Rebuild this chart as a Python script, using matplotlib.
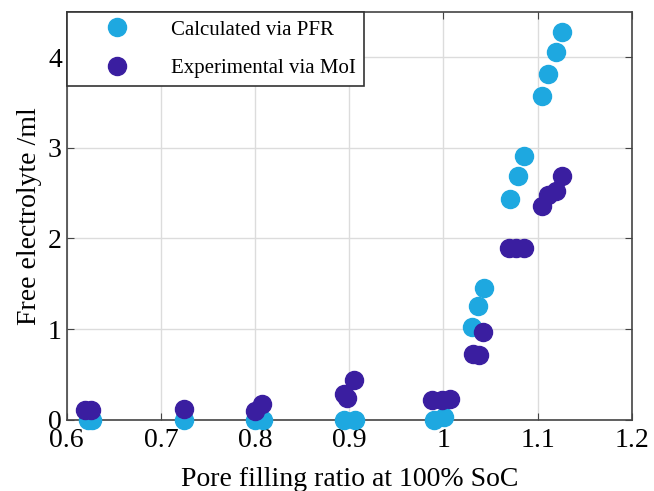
import matplotlib
matplotlib.use('Agg')
import matplotlib.pyplot as plt

plt.rcParams['font.family'] = 'Liberation Serif'

# Calculated via PFR
pfr_x = [0.623, 0.627, 0.725, 0.800, 0.808, 0.894, 0.906, 0.990, 1.001,
         1.030, 1.037, 1.043, 1.071, 1.079, 1.086, 1.105, 1.111, 1.120, 1.126]
pfr_y = [0.0, 0.0, 0.0, 0.0, 0.0, 0.0, 0.0, 0.0, 0.03,
         1.02, 1.26, 1.45, 2.43, 2.69, 2.91, 3.57, 3.81, 4.06, 4.28]

# Experimental via MoI
moi_x = [0.619, 0.626, 0.725, 0.800, 0.807, 0.894, 0.898, 0.905, 0.988, 0.998, 1.007,
         1.031, 1.038, 1.042, 1.070, 1.077, 1.086, 1.105, 1.111, 1.120, 1.126]
moi_y = [0.11, 0.11, 0.12, 0.10, 0.17, 0.28, 0.24, 0.44, 0.22, 0.22, 0.23,
         0.73, 0.71, 0.97, 1.90, 1.90, 1.90, 2.36, 2.48, 2.52, 2.69]

fig = plt.figure(figsize=(6.54, 4.91), dpi=100)
ax = fig.add_axes([0.102, 0.145, 0.864, 0.831])

ax.plot(pfr_x, pfr_y, 'o', color='#1EA8E0', markersize=13, label='Calculated via PFR',
        zorder=3, clip_on=False)
ax.plot(moi_x, moi_y, 'o', color='#3A1EA0', markersize=13, label='Experimental via MoI',
        zorder=4, clip_on=False)

ax.set_xlim(0.6, 1.2)
ax.set_ylim(0, 4.5)
ax.set_xticks([0.6, 0.7, 0.8, 0.9, 1.0, 1.1, 1.2])
ax.set_xticklabels(['0.6', '0.7', '0.8', '0.9', '1', '1.1', '1.2'])
ax.set_yticks([0, 1, 2, 3, 4])
ax.grid(True, color='#dcdcdc', linewidth=1)
ax.set_axisbelow(True)
ax.tick_params(direction='in', top=True, right=True, labelsize=20, length=5, color='#444444')
ax.tick_params(axis='x', pad=6)
for s in ax.spines.values():
    s.set_color('#444444')
    s.set_linewidth(1.2)

ax.set_xlabel('Pore filling ratio at 100% SoC', fontsize=20, labelpad=10)
ax.set_ylabel('Free electrolyte /ml', fontsize=20, labelpad=4)

leg = ax.legend(loc='upper left', bbox_to_anchor=(0, 1), borderaxespad=0, fontsize=15,
                frameon=True, fancybox=False, edgecolor='#333333', framealpha=1,
                handletextpad=0.6, borderpad=0.4, labelspacing=0.9, handlelength=4.0)
leg.get_frame().set_linewidth(1.2)
leg.set_zorder(5)

fig.savefig('out.png', dpi=100)
